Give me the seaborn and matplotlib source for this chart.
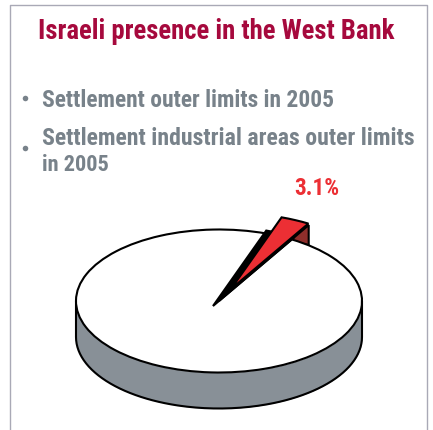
import matplotlib
matplotlib.use('Agg')
import matplotlib.pyplot as plt
import numpy as np
import seaborn as sns
from matplotlib import font_manager

# Values
slice_labels = ['Settlement industrial areas', 'Rest of the West Bank']
slice_shares = [3.1, 96.9]
slice_text = '3.1%'
title_text = 'Israeli presence in the West Bank'
bullet_lines = ['Settlement outer limits in 2005',
                'Settlement industrial areas outer limits',
                'in 2005']

sns.set_theme(style='white')

# Narrow bold face like the original, if there is one
candidates = ['Liberation Sans Narrow', 'Arimo Narrow', 'Roboto Condensed', 'Fira Sans Condensed',
              'IBM Plex Sans Condensed', 'Barlow Semi Condensed', 'Asap Condensed']
bold_fonts = {f.name for f in font_manager.fontManager.ttflist if f.weight in (700, 'bold')}
chosen = [c for c in candidates if c in bold_fonts]
plt.rcParams['font.family'] = chosen[:1] + ['Liberation Sans', 'DejaVu Sans']

RED = '#EC2F34'
DARK_RED = '#8E2E2B'
GREY = '#889097'
GREY_TXT = '#78828A'
EDGE = '#000000'
LW = 1.5

fig = plt.figure(figsize=(4.33, 4.30), dpi=100, facecolor='white')

# Pie axes: x in pixels, y in half pixels, so a circle draws as a 2:1 ellipse
ax = fig.add_axes([0, 0, 1, 1])
cx, cy = 219, 2 * (430 - 301)
radius = 143
depth = 2 * 36
start = 59.4

# Side wall of the pie
t = np.linspace(np.pi, 2 * np.pi, 200)
xs = cx + radius * np.cos(t)
ys = cy + radius * np.sin(t)
ax.fill_between(xs, ys - depth, ys, color=GREY, lw=0, zorder=1)
ax.plot(xs, ys - depth, color=EDGE, lw=LW, zorder=2)
ax.plot([cx - radius] * 2, [cy - depth, cy], color=EDGE, lw=LW, zorder=2)
ax.plot([cx + radius] * 2, [cy - depth, cy], color=EDGE, lw=LW, zorder=2)

# Main pie, without the small share
main, _ = ax.pie(slice_shares, startangle=start, center=(cx, cy), radius=radius,
                 colors=['none', 'white'], wedgeprops={'edgecolor': EDGE, 'linewidth': LW, 'zorder': 4})
main[0].set_visible(False)

# Pulled out slice, drawn longer than the pie as in the original
tip_x, tip_y = 213, 2 * (430 - 306)
big = 188
a0 = np.radians(start)
p0 = (tip_x + big * np.cos(a0), tip_y + big * np.sin(a0))
wall = [(tip_x, tip_y), p0, (p0[0], p0[1] - 2 * 20), (cx + radius * np.cos(a0), cy + radius * np.sin(a0) - 4)]
ax.fill(*zip(*wall), facecolor=DARK_RED, edgecolor=EDGE, lw=LW, zorder=3)

# Black underside up to the rim, then the red face, which starts further along
under, _ = ax.pie(slice_shares, startangle=start, center=(tip_x, tip_y), radius=160,
                  colors=[EDGE, 'none'], wedgeprops={'edgecolor': EDGE, 'linewidth': LW, 'zorder': 5})
under[1].set_visible(False)
top, _ = ax.pie(slice_shares, startangle=start, center=(231, 2 * (430 - 289)), radius=152,
                colors=[RED, 'none'], wedgeprops={'edgecolor': EDGE, 'linewidth': LW, 'zorder': 6})
top[1].set_visible(False)

ax.set_aspect('auto')
ax.set_xlim(0, 433)
ax.set_ylim(0, 860)
ax.axis('off')

# Overlay in pixel coordinates for frame and text
ov = fig.add_axes([0, 0, 1, 1], facecolor='none')
ov.set_xlim(0, 433)
ov.set_ylim(430, 0)
ov.axis('off')
ov.plot([9.5, 9.5, 426.5, 426.5], [430, 5, 5, 430], color='#A9A9B6', lw=1.0)


def fit_text(x, y, s, width, color):
    # set the size so the text is as wide as in the original
    txt = ov.text(x, y, s, color=color, fontsize=20, fontweight='bold', va='baseline')
    w = txt.get_window_extent(fig.canvas.get_renderer()).width
    txt.set_fontsize(20 * width / w)
    return txt


fit_text(38, 39, title_text, 356, '#A6093D')
fit_text(42, 107, bullet_lines[0], 291, GREY_TXT)
fit_text(42, 145, bullet_lines[1], 372, GREY_TXT)
fit_text(42, 171, bullet_lines[2], 67, GREY_TXT)
ov.scatter([25, 25], [98, 148], s=16, color=GREY_TXT, lw=0)
fit_text(294, 195, slice_text, 45, RED)

fig.savefig('out.png', dpi=100, facecolor='white')
